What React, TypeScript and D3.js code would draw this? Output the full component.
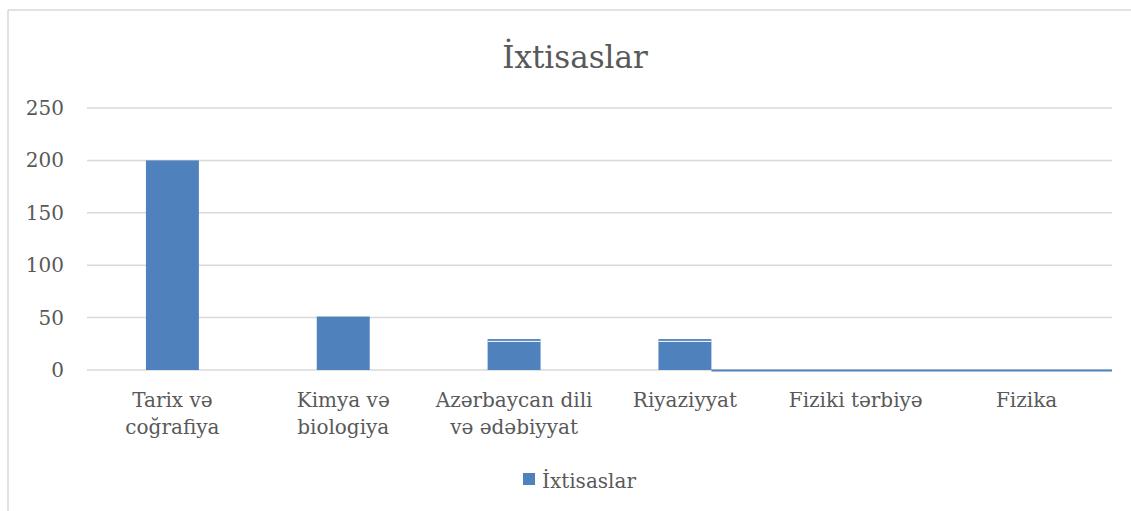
import React from "react";
import * as d3 from "d3";

const categories = [
  ["Tarix və", "coğrafiya"],
  ["Kimya və", "biologiya"],
  ["Azərbaycan dili", "və ədəbiyyat"],
  ["Riyaziyyat"],
  ["Fiziki tərbiyə"],
  ["Fizika"],
];
const values = [200, 51, 29.5, 29.5, 0, 0];
const yTicks = [0, 50, 100, 150, 200, 250];
const seriesName = "İxtisaslar";
const title = "İxtisaslar";

const W = 1131;
const H = 511;
const FONT = "'DejaVu Serif', serif";
const TEXT = "#595959";
const GRID = "#d9d9d9";
const BLUE = "#4f81bd";

export default function App() {
  const left = 87;
  const right = 1112;
  const x = d3
    .scaleBand<number>()
    .domain(d3.range(categories.length))
    .range([left, right])
    .paddingInner(0.69)
    .paddingOuter(0.345);
  const y = d3.scaleLinear().domain([0, 250]).range([370, 108]);
  const lastBar = 3;

  return (
    <svg width={W} height={H} style={{ position: "absolute", left: 0, top: 0 }}>
      <rect x={0} y={0} width={W} height={H} fill="#fff" />
      <line x1={8} y1={10} x2={W} y2={10} stroke={GRID} strokeWidth={1.5} />
      <line x1={8} y1={10} x2={8} y2={H} stroke={GRID} strokeWidth={1.5} />
      <text x={575} y={68} textAnchor="middle" fontFamily={FONT} fontSize={31} fill={TEXT}>
        {title}
      </text>
      {yTicks.map((t) => (
        <g key={t}>
          <line x1={left} x2={right} y1={y(t)} y2={y(t)} stroke={GRID} strokeWidth={1.5} />
          <text x={64} y={y(t) + 7} textAnchor="end" fontFamily={FONT} fontSize={20} fill={TEXT}>
            {t}
          </text>
        </g>
      ))}
      {values.map((v, i) =>
        v > 0 ? (
          <rect
            key={i}
            x={x(i)}
            y={y(v)}
            width={x.bandwidth()}
            height={y(0) - y(v)}
            fill={BLUE}
          />
        ) : null
      )}
      {values.map((v, i) =>
        v > 0 && v < 40 ? (
          <line
            key={"w" + i}
            x1={x(i)!}
            x2={x(i)! + x.bandwidth()}
            y1={y(v) + 2.3}
            y2={y(v) + 2.3}
            stroke="#fff"
            strokeWidth={1}
          />
        ) : null
      )}
      <line
        x1={x(lastBar)! + x.bandwidth()}
        x2={right}
        y1={y(0) + 0.5}
        y2={y(0) + 0.5}
        stroke={BLUE}
        strokeWidth={2}
      />
      {categories.map((lines, i) => (
        <text
          key={i}
          x={x(i)! + x.bandwidth() / 2}
          textAnchor="middle"
          fontFamily={FONT}
          fontSize={20}
          fill={TEXT}
        >
          {lines.map((l, j) => (
            <tspan key={j} x={x(i)! + x.bandwidth() / 2} y={407 + j * 27}>
              {l}
            </tspan>
          ))}
        </text>
      ))}
      <rect x={523} y={473} width={12} height={12} fill={BLUE} />
      <text x={542} y={488} fontFamily={FONT} fontSize={20} fill={TEXT}>
        {seriesName}
      </text>
    </svg>
  );
}
